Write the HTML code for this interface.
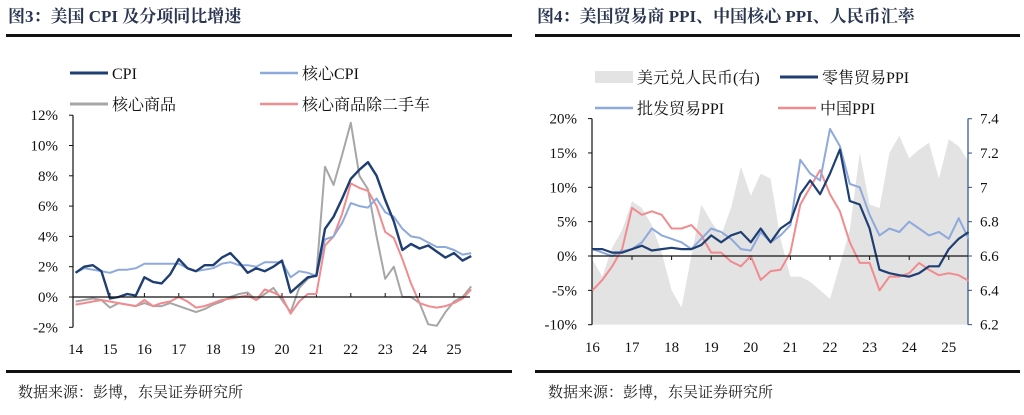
<!DOCTYPE html>
<html><head><meta charset="utf-8">
<style>
body{margin:0;background:#fff;width:1024px;height:410px;overflow:hidden;font-family:"Liberation Serif","Noto Serif CJK SC",serif;}
svg text{font-family:"Liberation Serif","Noto Serif CJK SC",serif;}
</style></head>
<body>
<svg id="c" width="1024" height="410">
<text x="8" y="22" font-size="17" font-weight="bold" fill="#2a3550">图3：美国 CPI 及分项同比增速</text>
<text x="537" y="22" font-size="17" font-weight="bold" fill="#2a3550">图4：美国贸易商 PPI、中国核心 PPI、人民币汇率</text>
<rect x="6" y="34" width="506" height="3" fill="#111"/>
<rect x="535" y="34" width="485" height="3" fill="#111"/>
<rect x="6" y="370" width="506" height="3" fill="#111"/>
<rect x="535" y="370" width="485" height="3" fill="#111"/>
<text x="18" y="397" font-size="15" fill="#222">数据来源：彭博，东吴证券研究所</text>
<text x="548" y="397" font-size="15" fill="#222">数据来源：彭博，东吴证券研究所</text>
<g id="L"></g><g id="R"></g>
</svg>
<script>
// ---- Left chart data (quarterly, from 2014.0) ----
const leftYears=["14","15","16","17","18","19","20","21","22","23","24","25"];
const leftTicks=[12,10,8,6,4,2,0,-2];
const cpi=[1.6,2.0,2.1,1.7,-0.1,0,0.2,0.1,1.3,1.0,0.9,1.5,2.5,1.9,1.7,2.1,2.1,2.6,2.9,2.3,1.6,1.9,1.7,2.0,2.4,0.3,0.8,1.3,1.4,4.5,5.3,6.5,7.8,8.4,8.9,8.0,6.4,5.0,3.1,3.5,3.2,3.4,3.0,2.6,2.9,2.4,2.7];
const coreCpi=[1.6,1.9,1.8,1.7,1.6,1.8,1.8,1.9,2.2,2.2,2.2,2.2,2.2,1.9,1.7,1.8,1.9,2.2,2.3,2.1,2.1,2.0,2.3,2.3,2.3,1.3,1.7,1.6,1.4,3.8,4.0,4.9,6.2,6.0,5.9,6.5,5.6,5.3,4.5,4.0,3.9,3.6,3.3,3.3,3.1,2.8,2.9];
const coreGoods=[-0.3,-0.2,-0.1,-0.2,-0.7,-0.4,-0.5,-0.6,-0.4,-0.6,-0.6,-0.4,-0.6,-0.8,-1.0,-0.8,-0.5,-0.3,0.0,0.2,0.3,-0.2,0.2,0.6,-0.2,-1.0,0.6,1.2,1.5,8.6,7.4,9.4,11.5,8.0,7.1,4.0,1.2,2.0,0.0,0.0,-0.4,-1.8,-1.9,-1.0,-0.3,0.0,0.7];
const coreGoodsExCars=[-0.5,-0.4,-0.3,-0.2,-0.3,-0.4,-0.5,-0.6,-0.2,-0.6,-0.4,-0.3,0.0,-0.3,-0.7,-0.6,-0.4,-0.2,-0.1,0.0,0.1,-0.2,0.5,0.3,0.0,-1.1,-0.3,0.2,0.2,3.4,4.0,5.5,7.5,7.2,7.0,6.0,4.3,3.9,2.5,0.9,-0.4,-0.6,-0.7,-0.6,-0.4,-0.1,0.5];
// ---- Right chart data (quarterly, from 2016.0) ----
const rightYears=["16","17","18","19","20","21","22","23","24","25"];
const rightTicksL=[20,15,10,5,0,-5,-10];
const rightTicksR=["7.4","7.2","7","6.8","6.6","6.4","6.2"];
const usdcny=[6.58,6.48,6.65,6.75,6.92,6.88,6.78,6.62,6.40,6.30,6.60,6.90,6.80,6.72,6.88,7.12,6.95,7.08,7.05,6.70,6.48,6.48,6.45,6.40,6.35,6.55,6.75,7.20,6.90,6.88,7.20,7.30,7.17,7.22,7.26,7.05,7.28,7.24,7.15];
const retailPpi=[1.0,1.0,0.5,0.5,1.0,1.5,0.8,1.0,1.2,1.0,1.0,1.6,3.0,2.0,3.0,3.5,2.0,4.0,2.0,4.0,5.0,9.0,11.0,9.0,12.0,15.5,8.0,7.5,4.0,-2.0,-2.5,-2.8,-3.0,-2.5,-1.5,-1.5,1.0,2.5,3.5];
const wholesalePpi=[1.0,0.5,0.0,0.7,1.0,2.0,4.0,3.0,2.5,2.0,1.0,2.5,4.0,3.5,2.5,1.0,0.8,3.5,2.0,3.0,4.5,14.0,12.0,11.0,18.5,16.0,10.5,10.0,6.0,3.0,4.0,3.5,5.0,4.0,3.0,3.5,2.5,5.5,2.5];
const chinaPpi=[-5.0,-3.5,-1.5,1.0,7.0,6.0,6.5,6.0,4.0,4.0,4.5,3.0,0.5,0.5,-0.8,-1.5,0.0,-3.5,-2.2,-2.0,0.5,7.5,10.0,12.5,9.0,6.5,2.0,-1.0,-1.0,-5.0,-3.0,-3.0,-2.5,-1.0,-2.0,-2.8,-2.5,-2.8,-3.6];

const NS="http://www.w3.org/2000/svg";
function mk(parent,tag,attrs){const e=document.createElementNS(NS,tag);for(const k in attrs)e.setAttribute(k,attrs[k]);parent.appendChild(e);return e;}

// Left axes
const L=document.getElementById('L');
const lx=t=>75.6+34.4*(t-2014);
const ly=v=>297-v*15.15;
leftTicks.forEach(v=>{
  const t=mk(L,'text',{x:58,y:ly(v)+5,'font-size':15,'text-anchor':'end',fill:'#111'});
  t.textContent=v+'%';
  
  
  mk(L,'line',{x1:69,x2:73,y1:ly(v),y2:ly(v),stroke:'#111'});
});
let ax=mk(L,'line',{x1:73,x2:73,y1:ly(12),y2:ly(-2),stroke:'#111','stroke-width':1.2});


leftYears.forEach((y,i)=>{
  const x=lx(2014+i);
  const t=mk(L,'text',{x:x,y:354,'font-size':15,'text-anchor':'middle',fill:'#111'});
  t.textContent=y;
  
  
  if(i>0)mk(L,'line',{x1:x,x2:x,y1:ly(0)-4,y2:ly(0),stroke:'#111'});
});
function series(g,data,xf,yf,t0,color,w,name){
  const d=data.map((v,i)=>(i?'L':'M')+xf(t0+i/4).toFixed(1)+' '+yf(v).toFixed(1)).join(' ');
  const p=mk(g,'path',{d:d,fill:'none',stroke:color,'stroke-width':w,'stroke-linejoin':'round'});
  
  
}
series(L,coreGoods,lx,ly,2014,'#a6a6a6',2,'core-goods-line');
series(L,coreGoodsExCars,lx,ly,2014,'#f08c8f',2,'core-goods-ex-used-cars-line');
series(L,coreCpi,lx,ly,2014,'#8ea9dc',2,'core-cpi-line');
series(L,cpi,lx,ly,2014,'#1f3f73',2.4,'cpi-line');
let z=mk(L,'line',{x1:73,x2:470,y1:ly(0),y2:ly(0),stroke:'#111','stroke-width':1.2});


function legend(g,x,y,color,w,label,name,rect){
  if(rect)mk(g,'rect',{x:x,y:y-6,width:38,height:12,fill:'#e3e3e3'});
  else mk(g,'line',{x1:x,x2:x+38,y1:y,y2:y,stroke:color,'stroke-width':w});
  const t=mk(g,'text',{x:x+42,y:y+6,'font-size':16,fill:'#111'});
  t.textContent=label;
  
  
}
legend(L,70,73,'#1f3f73',3,'CPI','legend-cpi');
legend(L,260,73,'#8ea9dc',2.5,'核心CPI','legend-core-cpi');
legend(L,70,104,'#a6a6a6',3,'核心商品','legend-core-goods');
legend(L,260,104,'#f08c8f',2.5,'核心商品除二手车','legend-core-goods-ex-cars');

// Right chart
const R=document.getElementById('R');
const rx=t=>592.4+39.6*(t-2016);
const ry=v=>256-v*6.87;
const ryR=v=>256-(v-6.6)*171.6;
const base=ryR(6.2);
let ad='M'+rx(2016).toFixed(1)+' '+base;
usdcny.forEach((v,i)=>{ad+=' L'+rx(2016+i/4).toFixed(1)+' '+ryR(v).toFixed(1);});
ad+=' L'+rx(2016+(usdcny.length-1)/4).toFixed(1)+' '+base+' Z';
const area=mk(R,'path',{d:ad,fill:'#e3e3e3'});


rightTicksL.forEach(v=>{
  const t=mk(R,'text',{x:577,y:ry(v)+5,'font-size':15,'text-anchor':'end',fill:'#111'});
  t.textContent=v+'%';
  
  
  mk(R,'line',{x1:588,x2:592,y1:ry(v),y2:ry(v),stroke:'#111'});
});
rightTicksR.forEach(s=>{
  const v=parseFloat(s);
  const t=mk(R,'text',{x:980,y:ryR(v)+5,'font-size':15,fill:'#111'});
  t.textContent=s;
  
  
  mk(R,'line',{x1:968,x2:972,y1:ryR(v),y2:ryR(v),stroke:'#2f4f8a'});
});
let a1=mk(R,'line',{x1:592,x2:592,y1:ry(20),y2:ry(-10),stroke:'#111','stroke-width':1.2});


let a2=mk(R,'line',{x1:968,x2:968,y1:ry(20),y2:ry(-10),stroke:'#2f4f8a','stroke-width':1.2});


rightYears.forEach((y,i)=>{
  const x=rx(2016+i);
  const t=mk(R,'text',{x:x,y:352,'font-size':15,'text-anchor':'middle',fill:'#111'});
  t.textContent=y;
  
  
  if(i>0)mk(R,'line',{x1:x,x2:x,y1:ry(0),y2:ry(0)+4,stroke:'#111'});
});
series(R,chinaPpi,rx,ry,2016,'#f08c8f',2,'china-ppi-line');
series(R,wholesalePpi,rx,ry,2016,'#8ea9dc',2,'wholesale-ppi-line');
series(R,retailPpi,rx,ry,2016,'#1f3f73',2.2,'retail-ppi-line');
let z2=mk(R,'line',{x1:592,x2:968,y1:ry(0),y2:ry(0),stroke:'#111','stroke-width':1.2});


legend(R,595,77,'',0,'美元兑人民币(右)','legend-usdcny',true);
legend(R,780,77,'#1f3f73',3,'零售贸易PPI','legend-retail-ppi');
legend(R,595,108,'#8ea9dc',2.5,'批发贸易PPI','legend-wholesale-ppi');
legend(R,778,108,'#f08c8f',2.5,'中国PPI','legend-china-ppi');
</script>
</body></html>
